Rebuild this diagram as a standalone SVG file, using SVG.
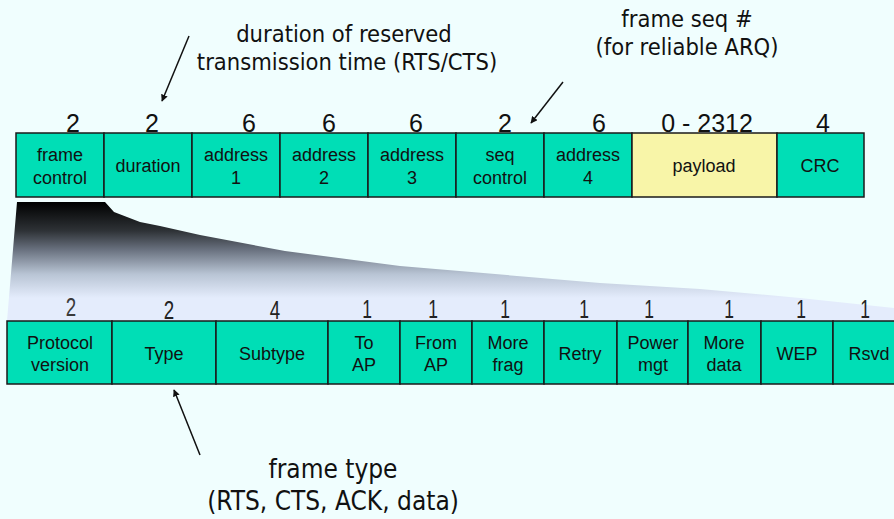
<svg xmlns="http://www.w3.org/2000/svg" width="894" height="519" viewBox="0 0 894 519">
<style>
.cell{fill:#00deb6;stroke:#1a1a1a;stroke-width:1.5}
.pay{fill:#f8f5a8;stroke:#1a1a1a;stroke-width:1.5}
.lbl{font-family:"Liberation Sans",Arial,sans-serif;font-size:18px;fill:#111;text-anchor:middle}
.num{font-family:"Liberation Sans",Arial,sans-serif;font-size:25px;fill:#111;text-anchor:middle}
.bnum{font-family:"Liberation Sans",Arial,sans-serif;font-size:25px;fill:#222;text-anchor:middle}
.ann{font-family:"DejaVu Sans Condensed","DejaVu Sans",sans-serif;font-size:23.5px;fill:#111;text-anchor:middle}
.ann2{font-family:"DejaVu Sans Condensed","DejaVu Sans",sans-serif;font-size:26px;fill:#111;text-anchor:middle}
.arr{stroke:#111;stroke-width:1.5;fill:none;marker-end:url(#ah)}
</style>
<defs>
<marker id="ah" viewBox="0 0 10 10" refX="9" refY="5" markerWidth="7" markerHeight="7" orient="auto" markerUnits="userSpaceOnUse">
<path d="M0,0 L10,5 L0,10 z" fill="#111"/>
</marker>
<linearGradient id="g" gradientUnits="userSpaceOnUse" x1="0" y1="202" x2="0" y2="298">
<stop offset="0" stop-color="#000"/>
<stop offset="0.3" stop-color="#2e3236"/>
<stop offset="0.5" stop-color="#6a7280"/>
<stop offset="0.75" stop-color="#b8c4d4"/>
<stop offset="1" stop-color="#e4ecfc"/>
</linearGradient>
</defs>
<rect width="894" height="519" fill="#f0fefe"/>
<path d="M17,202 L105,202 L114,212 L140,222 L160,226 L200,235 L285,251 L400,266 L600,283 L700,289 L800,298 L894,308 L894,321 L7,321 Z" fill="url(#g)"/>

<g id="top-row">
<g id="n-frame-control"><rect class="cell" x="16" y="133" width="88" height="64"/><text class="lbl" x="60" y="161">frame</text><text class="lbl" x="60" y="184">control</text></g>
<g id="n-duration"><rect class="cell" x="104" y="133" width="88" height="64"/><text class="lbl" x="148" y="172">duration</text></g>
<g id="n-address1"><rect class="cell" x="192" y="133" width="88" height="64"/><text class="lbl" x="236" y="161">address</text><text class="lbl" x="236" y="184">1</text></g>
<g id="n-address2"><rect class="cell" x="280" y="133" width="88" height="64"/><text class="lbl" x="324" y="161">address</text><text class="lbl" x="324" y="184">2</text></g>
<g id="n-address3"><rect class="cell" x="368" y="133" width="88" height="64"/><text class="lbl" x="412" y="161">address</text><text class="lbl" x="412" y="184">3</text></g>
<g id="n-seq-control"><rect class="cell" x="456" y="133" width="88" height="64"/><text class="lbl" x="500" y="161">seq</text><text class="lbl" x="500" y="184">control</text></g>
<g id="n-address4"><rect class="cell" x="544" y="133" width="88" height="64"/><text class="lbl" x="588" y="161">address</text><text class="lbl" x="588" y="184">4</text></g>
<g id="n-payload"><rect class="pay" x="632" y="133" width="145" height="64"/><text class="lbl" x="704" y="172">payload</text></g>
<g id="n-crc"><rect class="cell" x="777" y="133" width="87" height="64"/><text class="lbl" x="820" y="172">CRC</text></g>
</g>

<g id="top-sizes">
<text class="num" x="73" y="132">2</text>
<text class="num" x="152" y="132">2</text>
<text class="num" x="249" y="132">6</text>
<text class="num" x="329" y="132">6</text>
<text class="num" x="416" y="132">6</text>
<text class="num" x="505" y="132">2</text>
<text class="num" x="599" y="132">6</text>
<text class="num" x="707" y="132">0 - 2312</text>
<text class="num" x="823" y="132">4</text>
</g>

<g id="bottom-row">
<g id="n-protocol"><rect class="cell" x="7" y="321" width="105" height="63"/><text class="lbl" x="60" y="349">Protocol</text><text class="lbl" x="60" y="371">version</text></g>
<g id="n-type"><rect class="cell" x="112" y="321" width="104" height="63"/><text class="lbl" x="164" y="360">Type</text></g>
<g id="n-subtype"><rect class="cell" x="216" y="321" width="112" height="63"/><text class="lbl" x="272" y="360">Subtype</text></g>
<g id="n-toap"><rect class="cell" x="328" y="321" width="72" height="63"/><text class="lbl" x="364" y="349">To</text><text class="lbl" x="364" y="371">AP</text></g>
<g id="n-fromap"><rect class="cell" x="400" y="321" width="72" height="63"/><text class="lbl" x="436" y="349">From</text><text class="lbl" x="436" y="371">AP</text></g>
<g id="n-morefrag"><rect class="cell" x="472" y="321" width="72" height="63"/><text class="lbl" x="508" y="349">More</text><text class="lbl" x="508" y="371">frag</text></g>
<g id="n-retry"><rect class="cell" x="544" y="321" width="73" height="63"/><text class="lbl" x="580" y="360">Retry</text></g>
<g id="n-powermgt"><rect class="cell" x="617" y="321" width="71" height="63"/><text class="lbl" x="653" y="349">Power</text><text class="lbl" x="653" y="371">mgt</text></g>
<g id="n-moredata"><rect class="cell" x="688" y="321" width="73" height="63"/><text class="lbl" x="724" y="349">More</text><text class="lbl" x="724" y="371">data</text></g>
<g id="n-wep"><rect class="cell" x="761" y="321" width="72" height="63"/><text class="lbl" x="797" y="360">WEP</text></g>
<g id="n-rsvd"><rect class="cell" x="833" y="321" width="72" height="63"/><text class="lbl" x="869" y="360">Rsvd</text></g>
</g>

<g id="bottom-sizes">
<text class="bnum" transform="translate(71,316) scale(0.75,1)" style="fill:#3a3a3a">2</text>
<text class="bnum" transform="translate(169,319) scale(0.75,1)">2</text>
<text class="bnum" transform="translate(275,319) scale(0.75,1)">4</text>
<text class="bnum" transform="translate(367,318) scale(0.7,1)">1</text>
<text class="bnum" transform="translate(433,318) scale(0.7,1)">1</text>
<text class="bnum" transform="translate(505,318) scale(0.7,1)">1</text>
<text class="bnum" transform="translate(584,318) scale(0.7,1)">1</text>
<text class="bnum" transform="translate(649,318) scale(0.7,1)">1</text>
<text class="bnum" transform="translate(729,318) scale(0.7,1)">1</text>
<text class="bnum" transform="translate(801,318) scale(0.7,1)">1</text>
<text class="bnum" transform="translate(865,318) scale(0.7,1)">1</text>
</g>

<g id="annotations">
<text class="ann" x="344" y="42">duration of reserved</text>
<text class="ann" x="347" y="70">transmission time (RTS/CTS)</text>
<text class="ann" x="687" y="27">frame seq #</text>
<text class="ann" x="687" y="55">(for reliable ARQ)</text>
<text class="ann2" x="333" y="478">frame type</text>
<text class="ann2" x="333" y="510">(RTS, CTS, ACK, data)</text>
</g>

<g id="connectors">
<line class="arr" x1="189" y1="36" x2="162" y2="101"/>
<line class="arr" x1="563" y1="82" x2="531" y2="123"/>
<line class="arr" x1="200" y1="455" x2="174" y2="390"/>
</g>
</svg>
